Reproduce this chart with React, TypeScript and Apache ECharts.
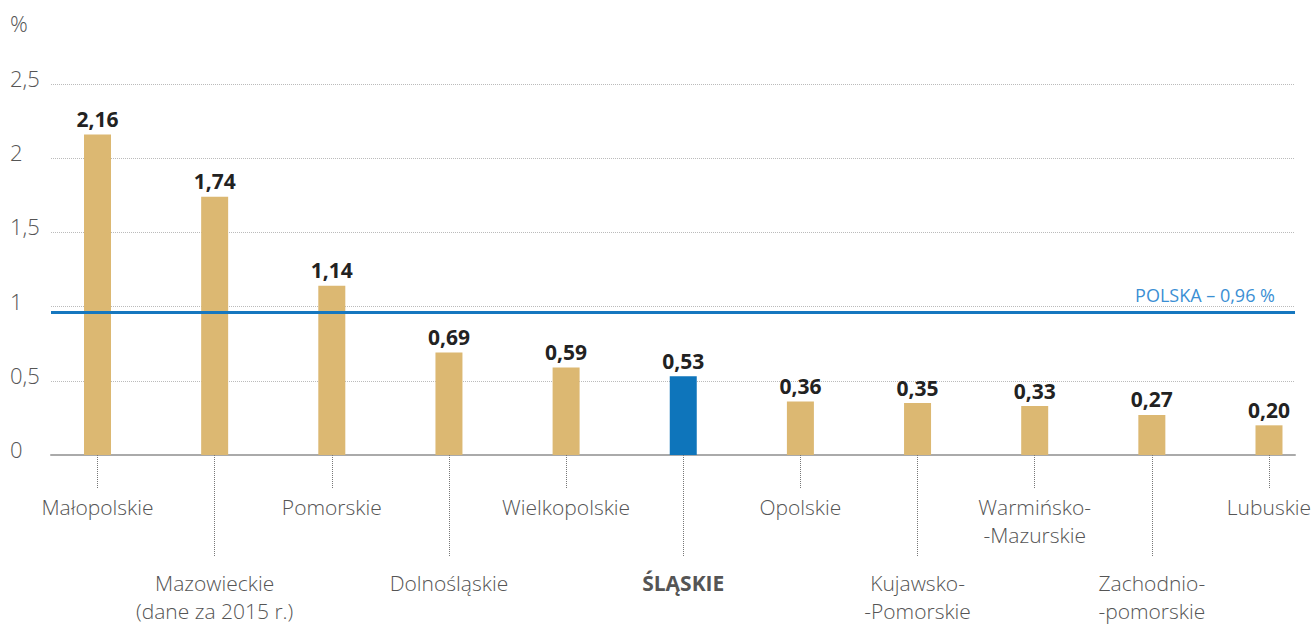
import React, { useEffect, useRef } from "react";
import * as echarts from "echarts";

const categories = [
  "Małopolskie",
  "Mazowieckie\n(dane za 2015 r.)",
  "Pomorskie",
  "Dolnośląskie",
  "Wielkopolskie",
  "ŚLĄSKIE",
  "Opolskie",
  "Kujawsko-\n-Pomorskie",
  "Warmińsko-\n-Mazurskie",
  "Zachodnio-\n-pomorskie",
  "Lubuskie",
];
const values = [2.16, 1.74, 1.14, 0.69, 0.59, 0.53, 0.36, 0.35, 0.33, 0.27, 0.2];
const highlighted = "ŚLĄSKIE";
const polskaValue = 0.96;
const polskaLabel = "POLSKA – 0,96 %";
const yMin = 0;
const yMax = 2.5;
const yStep = 0.5;

const GOLD = "#dcb872";
const BLUE = "#0e75bb";
const FONT = "'Open Sans', 'Noto Sans', sans-serif";

const comma = (s: string) => s.replace(".", ",");

export default function App() {
  const ref = useRef<HTMLDivElement>(null);
  useEffect(() => {
    if (!ref.current) return;
    const chart = echarts.init(ref.current, null, { renderer: "svg" });
    const idx = categories.map((_, i) => i);
    const evenIdx = idx.filter((i) => i % 2 === 0);
    const oddIdx = idx.filter((i) => i % 2 === 1);
    const fmtCat = (v: number) => {
      const name = categories[Math.round(v)] ?? "";
      return name === highlighted ? `{b|${name}}` : name;
    };
    const labelBase = {
      color: "#555",
      fontSize: 21,
      fontWeight: 300,
      fontFamily: FONT,
      lineHeight: 28,
      formatter: fmtCat,
      rich: { b: { fontWeight: "bold", fontSize: 21, color: "#555", fontFamily: FONT } },
    };
    const xBase = {
      type: "value" as const,
      min: -0.397,
      max: 10.222,
      position: "bottom" as const,
      splitLine: { show: false },
    };
    chart.setOption({
      animation: false,
      textStyle: { fontFamily: FONT },
      grid: { left: 51, right: 21, top: 84, bottom: 170, containLabel: false },
      graphic: [
        {
          type: "text",
          left: 10,
          top: 12,
          style: { text: "%", fontSize: 22, fontWeight: 300, fill: "#555", fontFamily: FONT },
        },
      ],
      xAxis: [
        {
          ...xBase,
          axisLine: { show: true, onZero: false, lineStyle: { color: "#aaa", width: 2 } },
          axisTick: {
            show: true,
            customValues: evenIdx,
            length: 34,
            lineStyle: { color: "#777", type: "dotted", width: 1 },
          },
          axisLabel: { ...labelBase, customValues: evenIdx, margin: 38 },
        },
        {
          ...xBase,
          axisLine: { show: false },
          axisTick: {
            show: true,
            customValues: oddIdx,
            length: 102,
            lineStyle: { color: "#777", type: "dotted", width: 1 },
          },
          axisLabel: { ...labelBase, customValues: oddIdx, margin: 114 },
        },
      ],
      yAxis: {
        type: "value",
        min: yMin,
        max: yMax,
        interval: yStep,
        axisLine: { show: false },
        axisTick: { show: false },
        splitLine: { show: true, lineStyle: { color: "#bbb", type: "dotted", width: 1 } },
        axisLabel: {
          align: "left",
          verticalAlign: "bottom",
          lineHeight: 12,
          margin: 41,
          color: "#555",
          fontSize: 22,
          fontWeight: 300,
          fontFamily: FONT,
          formatter: (v: number) => comma(String(v)),
        },
      },
      series: [
        {
          type: "bar",
          xAxisIndex: 0,
          barWidth: 27,
          data: values.map((v, i) => ({
            value: [i, v],
            itemStyle: { color: categories[i] === highlighted ? BLUE : GOLD },
          })),
          label: {
            show: true,
            position: "top",
            distance: 5,
            fontSize: 21,
            fontWeight: "bold",
            color: "#222",
            fontFamily: FONT,
            formatter: (p: any) => comma(p.value[1].toFixed(2)),
          },
          markLine: {
            silent: true,
            symbol: "none",
            z: 5,
            lineStyle: { color: "#1677bf", width: 3, type: "solid" },
            label: {
              show: true,
              position: "insideEndTop",
              formatter: polskaLabel,
              color: "#3b8fd4",
              fontSize: 18,
              fontFamily: FONT,
              distance: [20, 9],
            },
            data: [{ yAxis: polskaValue }],
          },
        },
      ],
    });
    return () => chart.dispose();
  }, []);
  return (
    <div
      ref={ref}
      style={{ position: "fixed", left: 0, top: 0, width: 1316, height: 625, background: "#fff" }}
    />
  );
}
